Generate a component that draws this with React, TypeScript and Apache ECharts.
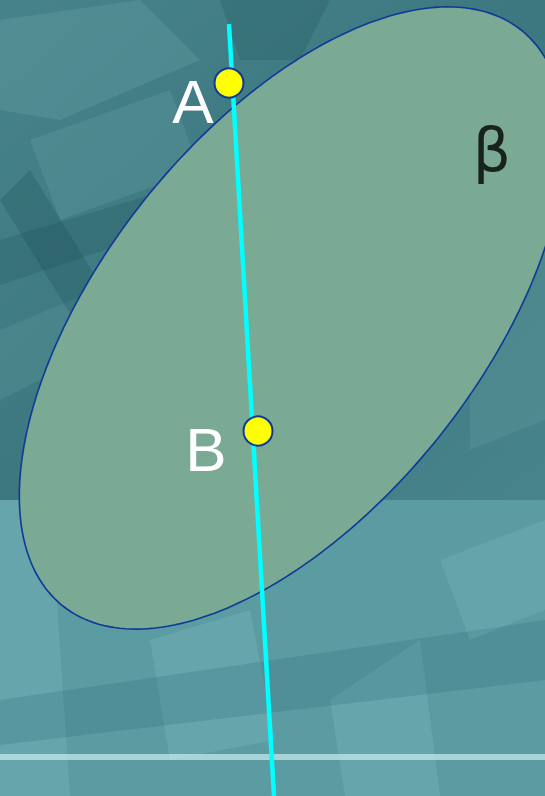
import React, { useEffect, useRef } from "react";
import * as echarts from "echarts";

// Geometry (pixel coordinates, y downward)
const pointNames = ["A", "B"];
const pointX = [229, 258];
const pointY = [83, 431];
const labelOffsetX = [16, 0];
const lineX = [229, 274];
const lineY = [24, 796];
const ellipseCenter = [292, 318];
const ellipseAxes = [368, 189]; // semi-major, semi-minor
const ellipseAngleDeg = 51.5;
const planeLabel = "β";
const planeLabelPos = [492, 150];

export default function App() {
  const ref = useRef<HTMLDivElement>(null);
  useEffect(() => {
    document.body.style.margin = "0";
    const chart = echarts.init(ref.current!, null, { renderer: "svg" });
    const W = 545, H = 796;
    const soft = (c: string) => ({ fill: c });
    const bg: any[] = [
      { type: "rect", shape: { x: 0, y: 0, width: W, height: 500 }, style: { fill: new echarts.graphic.LinearGradient(0, 0, 1, 1, [{ offset: 0, color: "#47838a" }, { offset: 0.5, color: "#3d7880" }, { offset: 1, color: "#48848b" }]) }, z: -10 },
      { type: "rect", shape: { x: 0, y: 500, width: W, height: 296 }, style: { fill: "#5b9ca3" }, z: -10 },
      // lighter patches, top
      { type: "polygon", shape: { points: [[0, 20], [140, 0], [200, 60], [60, 120], [0, 110]] }, style: soft("rgba(130,185,190,0.2)"), z: -9 },
      { type: "polygon", shape: { points: [[30, 140], [170, 90], [200, 170], [60, 220]] }, style: soft("rgba(130,185,190,0.18)"), z: -9 },
      { type: "polygon", shape: { points: [[0, 330], [120, 280], [140, 330], [0, 400]] }, style: soft("rgba(120,175,180,0.18)"), z: -9 },
      { type: "polygon", shape: { points: [[470, 260], [545, 220], [545, 420], [470, 450]] }, style: soft("rgba(120,175,180,0.18)"), z: -9 },
      // darker bands, top
      { type: "polygon", shape: { points: [[0, 200], [30, 170], [110, 300], [80, 330]] }, style: soft("rgba(20,70,78,0.22)"), z: -9 },
      { type: "polygon", shape: { points: [[0, 240], [200, 180], [210, 215], [0, 285]] }, style: soft("rgba(20,70,78,0.2)"), z: -9 },
      { type: "polygon", shape: { points: [[220, 0], [330, 0], [300, 60], [240, 60]] }, style: soft("rgba(20,70,78,0.2)"), z: -9 },
      // lower region panels
      { type: "polygon", shape: { points: [[0, 500], [50, 500], [70, 796], [0, 796]] }, style: soft("rgba(150,205,210,0.2)"), z: -9 },
      { type: "polygon", shape: { points: [[150, 640], [250, 610], [275, 740], [170, 760]] }, style: soft("rgba(150,205,210,0.2)"), z: -9 },
      { type: "polygon", shape: { points: [[330, 700], [420, 640], [440, 796], [345, 796]] }, style: soft("rgba(150,205,210,0.2)"), z: -9 },
      { type: "polygon", shape: { points: [[0, 700], [545, 620], [545, 680], [0, 745]] }, style: soft("rgba(30,90,98,0.18)"), z: -9 },
      { type: "polygon", shape: { points: [[440, 560], [545, 520], [545, 610], [470, 640]] }, style: soft("rgba(150,205,210,0.16)"), z: -9 },
      // horizontal light line
      { type: "rect", shape: { x: 0, y: 754, width: W, height: 6 }, style: { fill: "rgba(200,236,236,0.7)" }, z: -8 },
    ];

    const th = (ellipseAngleDeg * Math.PI) / 180;
    chart.setOption({
      animation: false,
      graphic: bg,
      grid: { left: 0, right: 0, top: 0, bottom: 0 },
      xAxis: { type: "value", min: 0, max: W, show: false },
      yAxis: { type: "value", min: 0, max: H, inverse: true, show: false },
      series: [
        {
          type: "custom",
          z: 1,
          data: [[ellipseCenter[0], ellipseCenter[1]]],
          renderItem: (params: any, api: any) => {
            const pts: number[][] = [];
            const N = 240;
            for (let i = 0; i < N; i++) {
              const t = (i / N) * Math.PI * 2;
              const ex = ellipseAxes[0] * Math.cos(t);
              const ey = ellipseAxes[1] * Math.sin(t);
              const x = api.value(0) + ex * Math.cos(th) - ey * Math.sin(th);
              const y = api.value(1) - (ex * Math.sin(th) + ey * Math.cos(th));
              pts.push(api.coord([x, y]));
            }
            return {
              type: "polygon",
              shape: { points: pts },
              style: { fill: "#7aa994", stroke: "#0d3a98", lineWidth: 1.6 },
            };
          },
        },
        {
          type: "line",
          z: 2,
          data: lineX.map((x, i) => [x, lineY[i]]),
          symbol: "none",
          lineStyle: { color: "#00ffff", width: 4.5 },
        },
        {
          type: "scatter",
          z: 3,
          data: pointX.map((x, i) => ({
            value: [x, pointY[i]],
            name: pointNames[i],
            label: { offset: [labelOffsetX[i], 18] },
          })),
          symbolSize: 29,
          itemStyle: { color: "#ffff00", borderColor: "#0d3a98", borderWidth: 2, opacity: 1 },
          label: {
            show: true,
            formatter: (p: any) => p.name,
            position: "left",
            distance: 16,
            color: "#ffffff",
            fontSize: 62,
            fontFamily: "Liberation Sans, Arial, sans-serif",
          },
        },
        {
          type: "scatter",
          z: 3,
          data: [planeLabelPos],
          symbolSize: 0,
          label: {
            show: true,
            formatter: planeLabel,
            position: "inside",
            color: "#000000",
            fontSize: 60,
            fontFamily: "DejaVu Sans, sans-serif",
          },
        },
      ],
    });
    return () => chart.dispose();
  }, []);
  return <div ref={ref} style={{ width: 545, height: 796 }} />;
}
